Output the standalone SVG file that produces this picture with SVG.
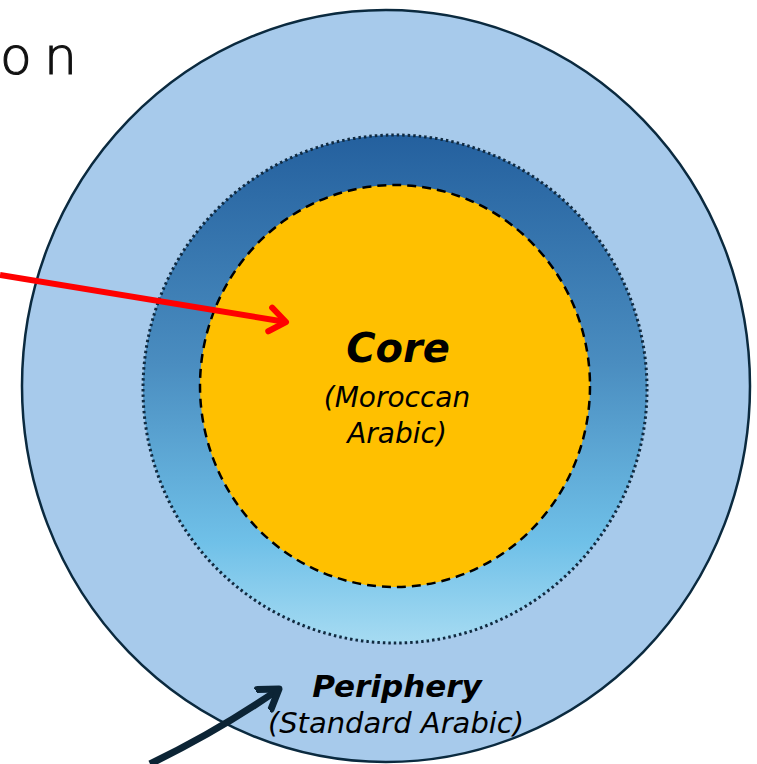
<svg xmlns="http://www.w3.org/2000/svg" width="757" height="764" viewBox="0 0 757 764">
<defs>
<linearGradient id="mid" x1="0" y1="0" x2="0" y2="1">
<stop offset="0" stop-color="#24609E"/>
<stop offset="0.45" stop-color="#4A8DC0"/>
<stop offset="0.8" stop-color="#6FC0E8"/>
<stop offset="1" stop-color="#A6DBF2"/>
</linearGradient>
<marker id="redHead" markerUnits="userSpaceOnUse" markerWidth="40" markerHeight="40" viewBox="-20 -20 40 40" refX="0" refY="0" orient="auto">
<path d="M-16,-12 L0,0 L-16,12" fill="none" stroke="#FF0000" stroke-width="6" stroke-linecap="round" stroke-linejoin="round"/>
</marker>
<marker id="darkHead" markerUnits="userSpaceOnUse" markerWidth="40" markerHeight="40" viewBox="-20 -20 40 40" refX="0" refY="0" orient="auto">
<path d="M-18,-12 L0,0 L-18,12" fill="none" stroke="#0C2435" stroke-width="7" stroke-linecap="round" stroke-linejoin="round"/>
</marker>
</defs>
<style>
.hand{font-family:"Comic Sans MS","DejaVu Sans",sans-serif;font-style:italic;fill:#000;text-anchor:middle}
</style>
<rect width="757" height="764" fill="#FFFFFF"/>
<text y="74" font-family="'DejaVu Sans',sans-serif" font-weight="200" font-size="52" fill="#111" stroke="#111" stroke-width="1.1"><tspan x="0">o</tspan><tspan x="44">n</tspan></text>
<g id="periphery">
<ellipse cx="386" cy="386" rx="364" ry="376" fill="#A7CAEB" stroke="#0B2A3F" stroke-width="2.5"/>
</g>
<g id="middle">
<ellipse cx="395" cy="389" rx="252" ry="254" fill="url(#mid)" stroke="#102A40" stroke-width="3" stroke-dasharray="2.5 3"/>
</g>
<g id="core">
<ellipse cx="395" cy="386" rx="195" ry="201" fill="#FFC000" stroke="#000" stroke-width="2.5" stroke-dasharray="9 6"/>
<text class="hand" x="398" y="362" font-size="40" font-weight="bold">Core</text>
<text class="hand" x="397" y="407" font-size="28">(Moroccan</text>
<text class="hand" x="397" y="443" font-size="28">Arabic)</text>
</g>
<g id="periphery-label">
<text class="hand" x="397" y="697" font-size="31" font-weight="bold">Periphery</text>
<text class="hand" x="396" y="733" font-size="29">(Standard Arabic)</text>
</g>
<g id="connectors">
<line x1="0" y1="275" x2="286" y2="322" stroke="#FF0000" stroke-width="6" marker-end="url(#redHead)"/>
<path d="M150,764 Q220,730 279,689" fill="none" stroke="#0C2435" stroke-width="7" marker-end="url(#darkHead)"/>
</g>
</svg>
